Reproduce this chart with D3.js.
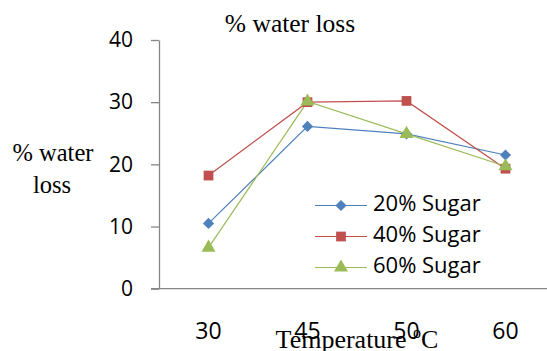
<!DOCTYPE html>
<html>
<head>
<meta charset="utf-8">
<script src="https://cdn.jsdelivr.net/npm/d3@7"></script>
<style>
  body { margin: 0; background: #fff; }
  svg { display: block; }
</style>
</head>
<body>
<script>
//data
var categories = ["30", "45", "50", "60"];
var yTicks = [0, 10, 20, 30, 40];
var seriesNames = ["20% Sugar", "40% Sugar", "60% Sugar"];
var sugar20 = [10.5, 26.1, 24.9, 21.5];
var sugar40 = [18.2, 30.0, 30.2, 19.3];
var sugar60 = [6.6, 30.1, 24.9, 19.7];

var width = 547;
var height = 351;

var margin = ({top: 40, right: -8, bottom: 62.3, left: 159});

var colors = ["#4f81bd", "#c0504d", "#9bbb59"];
var symbols = [d3.symbolDiamond2, d3.symbolSquare, d3.symbolTriangle];
var symSizes = [80, 95, 85];

var series = seriesNames.map((name, i) => ({
    name: name,
    values: [sugar20, sugar40, sugar60][i].map((v, j) => ({cat: categories[j], value: v}))
}));

var x = d3.scaleBand()
    .domain(categories)
    .range([margin.left, width - margin.right])
    .padding(0);

var y = d3.scaleLinear()
    .domain([0, 40])
    .range([height - margin.bottom, margin.top]);

var cx = d => x(d.cat) + x.bandwidth() / 2;

const svg = d3.select("body").append("svg")
    .attr("width", width)
    .attr("height", height);

//y axis
svg.append("g")
    .attr("transform", `translate(${margin.left},0)`)
    .call(d3.axisLeft(y).tickValues(yTicks).tickSize(8).tickSizeOuter(0).tickPadding(18))
    .call(g => g.selectAll("line, path").attr("stroke", "#868686").attr("stroke-width", 1.3))
    .call(g => g.selectAll("text")
        .attr("font-family", "Open Sans, sans-serif")
        .attr("font-size", 21)
        .attr("fill", "#000"));

//x axis
svg.append("g")
    .attr("transform", `translate(0,${y(0)})`)
    .call(d3.axisBottom(x).tickSize(0).tickPadding(34))
    .call(g => g.select(".domain").remove())
    .call(g => g.selectAll("text")
        .attr("font-family", "Open Sans, sans-serif")
        .attr("font-size", 23)
        .attr("fill", "#000"));

svg.append("line")
    .attr("x1", margin.left - 8)
    .attr("x2", width)
    .attr("y1", y(0))
    .attr("y2", y(0))
    .attr("stroke", "#868686")
    .attr("stroke-width", 1.3);

//lines
var line = d3.line()
    .x(cx)
    .y(d => y(d.value));

series.forEach((s, i) => {
    svg.append("path")
        .datum(s.values)
        .attr("fill", "none")
        .attr("stroke", colors[i])
        .attr("stroke-width", 1.2)
        .attr("d", line);
});

series.forEach((s, i) => {
    svg.append("g")
        .selectAll("path").data(s.values).enter().append("path")
        .attr("transform", d => `translate(${cx(d)},${y(d.value)})`)
        .attr("d", d3.symbol().type(symbols[i]).size(symSizes[i]))
        .attr("fill", colors[i]);
});

//titles
svg.append("text")
    .attr("x", 290)
    .attr("y", 31.5)
    .attr("text-anchor", "middle")
    .attr("font-family", "Liberation Serif, Times New Roman, serif")
    .attr("font-size", 25.5)
    .text("% water loss");

var yTitle = svg.append("text")
    .attr("text-anchor", "middle")
    .attr("font-family", "Liberation Serif, Times New Roman, serif")
    .attr("font-size", 24.5);
yTitle.append("tspan").attr("x", 53).attr("y", 160.7).text("% water");
yTitle.append("tspan").attr("x", 52).attr("y", 193.3).text("loss");

var xTitle = svg.append("text")
    .attr("x", 357)
    .attr("y", 348)
    .attr("text-anchor", "middle")
    .attr("font-family", "Liberation Serif, Times New Roman, serif")
    .attr("font-size", 26);
xTitle.append("tspan").text("Temperature ");
xTitle.append("tspan").attr("font-size", 16).attr("dy", -10).text("o");
xTitle.append("tspan").attr("dy", 10).text("C");

//legend
var legend = svg.append("g")
    .selectAll("g").data(series).enter().append("g")
    .attr("transform", (d, i) => `translate(315,${205.5 + i * 31})`);

legend.append("line")
    .attr("x1", 0)
    .attr("x2", 52)
    .attr("stroke", (d, i) => colors[i])
    .attr("stroke-width", 1.2);

legend.append("path")
    .attr("transform", "translate(26,0)")
    .attr("d", (d, i) => d3.symbol().type(symbols[i]).size(symSizes[i])())
    .attr("fill", (d, i) => colors[i]);

legend.append("text")
    .attr("x", 58)
    .attr("y", 5.5)
    .attr("font-family", "Open Sans, sans-serif")
    .attr("font-size", 22)
    .attr("fill", "#000")
    .text(d => d.name);
</script>
</body>
</html>
